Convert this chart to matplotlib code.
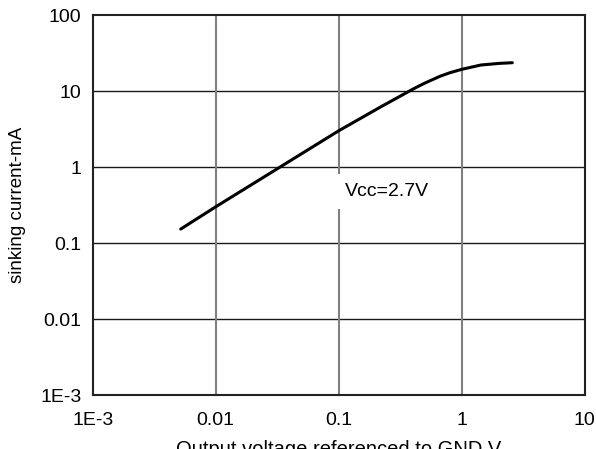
import matplotlib
matplotlib.use("Agg")
import matplotlib.pyplot as plt

# curve (output voltage V, sinking current mA)
volts = [0.0052, 0.01, 0.03, 0.1, 0.22, 0.41, 0.5, 0.67, 0.8, 1.0, 1.43, 2.0, 2.58]
current_ma = [0.153, 0.30, 0.90, 3.0, 6.2, 10.8, 12.7, 15.7, 17.4, 19.3, 22.0, 23.1, 23.6]

x_ticks = [1e-3, 1e-2, 1e-1, 1, 10]
x_labels = ["1E-3", "0.01", "0.1", "1", "10"]
y_ticks = [1e-3, 1e-2, 1e-1, 1, 10, 100]
y_labels = ["1E-3", "0.01", "0.1", "1", "10", "100"]

plt.rcParams["font.family"] = ["Liberation Sans", "DejaVu Sans"]

fig = plt.figure(figsize=(5.96, 4.49), dpi=100)
ax = fig.add_axes([0.1555, 0.1200, 0.8255, 0.8465])

ax.set_xscale("log")
ax.set_yscale("log")
ax.set_xlim(1e-3, 10)
ax.set_ylim(1e-3, 100)

ax.set_xticks(x_ticks)
ax.set_xticklabels(x_labels)
ax.set_yticks(y_ticks)
ax.set_yticklabels(y_labels)
ax.minorticks_off()
ax.tick_params(length=0, labelsize=14, colors="black")
ax.tick_params(axis="x", pad=12)
ax.tick_params(axis="y", pad=8)

# grid: horizontal lines dark, vertical lines grey
for yv in y_ticks[1:-1]:
    ax.axhline(yv, color="#1a1a1a", lw=1.0, zorder=1)
for xv in x_ticks[1:-1]:
    ax.axvline(xv, color="#808080", lw=1.5, zorder=1)

for sp in ax.spines.values():
    sp.set_linewidth(1.5)
    sp.set_color("#222222")

ax.plot(volts, current_ma, color="black", lw=2.2, zorder=3,
        solid_capstyle="round", solid_joinstyle="round")

ax.text(0.112, 0.415, "Vcc=2.7V", fontsize=14, ha="left", va="baseline",
        zorder=2, bbox=dict(facecolor="white", edgecolor="none",
                            boxstyle="square,pad=0.45"))

ax.set_ylabel("sinking current-mA", fontsize=13.5, labelpad=10)
ax.set_xlabel("Output voltage referenced to GND,V", fontsize=14.5, labelpad=8)

fig.savefig("out.png", dpi=100)
